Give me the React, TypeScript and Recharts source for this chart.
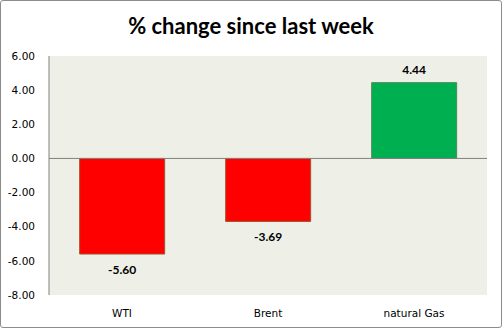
import React from 'react';
import { BarChart, Bar, XAxis, YAxis, CartesianGrid, ReferenceLine, LabelList, Cell } from 'recharts';

const categories = ['WTI', 'Brent', 'natural Gas'];
const changes = [-5.6, -3.69, 4.44];
const yTicks = [-8, -6, -4, -2, 0, 2, 4, 6];

const data = categories.map((name, i) => ({ name, value: changes[i] }));

const renderLabel = (props: any) => {
  const { x, y, width, height, value } = props;
  const top = Math.min(y, y + height);
  const bottom = Math.max(y, y + height);
  const ty = value < 0 ? bottom + 20 : top - 9;
  return (
    <text
      x={x + width / 2}
      y={ty}
      textAnchor="middle"
      fontFamily="Lato, 'Open Sans', sans-serif"
      fontWeight="bold"
      fontSize={12}
      fill="#000"
    >
      {value.toFixed(2)}
    </text>
  );
};

const App = () => {
  return (
    <div
      style={{
        position: 'absolute',
        left: 0,
        top: 0,
        width: 502,
        height: 328,
        boxSizing: 'border-box',
        border: '1px solid #8c8c8c',
        borderRadius: 3,
        background: '#fff',
        overflow: 'hidden',
      }}
    >
      <div
        style={{
          position: 'absolute',
          left: 0,
          top: 11,
          width: 500,
          textAlign: 'center',
          fontFamily: "Lato, 'Open Sans', sans-serif",
          fontWeight: 'bold',
          fontSize: 22,
          color: '#000',
        }}
      >
        % change since last week
      </div>
      <div style={{ position: 'absolute', left: -1, top: -1 }}>
        <BarChart
          width={502}
          height={328}
          data={data}
          margin={{ top: 56, right: 15, bottom: 3, left: 0 }}
          barCategoryGap="21%"
        >
          <CartesianGrid horizontal={false} vertical={false} fill="#eef0e8" />
          <XAxis
            dataKey="name"
            axisLine={false}
            tickLine={false}
            height={30}
            tick={{ fill: '#000', fontSize: 10.5, fontFamily: "'DejaVu Sans', sans-serif" }}
            tickMargin={9}
          />
          <YAxis
            width={49}
            domain={[-8, 6]}
            ticks={yTicks}
            interval={0}
            tickFormatter={(v: number) => v.toFixed(2)}
            axisLine={{ stroke: '#808080' }}
            tickLine={false}
            tickMargin={8}
            tick={{ fill: '#000', fontSize: 10.5, fontFamily: "'DejaVu Sans', sans-serif" }}
          />
          <ReferenceLine y={0} stroke="#808080" />
          <Bar dataKey="value" isAnimationActive={false} strokeWidth={1}>
            {data.map((d, i) => (
              <Cell
                key={`cell-${i}`}
                fill={d.value < 0 ? '#ff0000' : '#00b050'}
                stroke={d.value < 0 ? '#a0522d' : '#4f8a5a'}
              />
            ))}
            <LabelList dataKey="value" content={renderLabel} />
          </Bar>
        </BarChart>
      </div>
    </div>
  );
};

export default App;
